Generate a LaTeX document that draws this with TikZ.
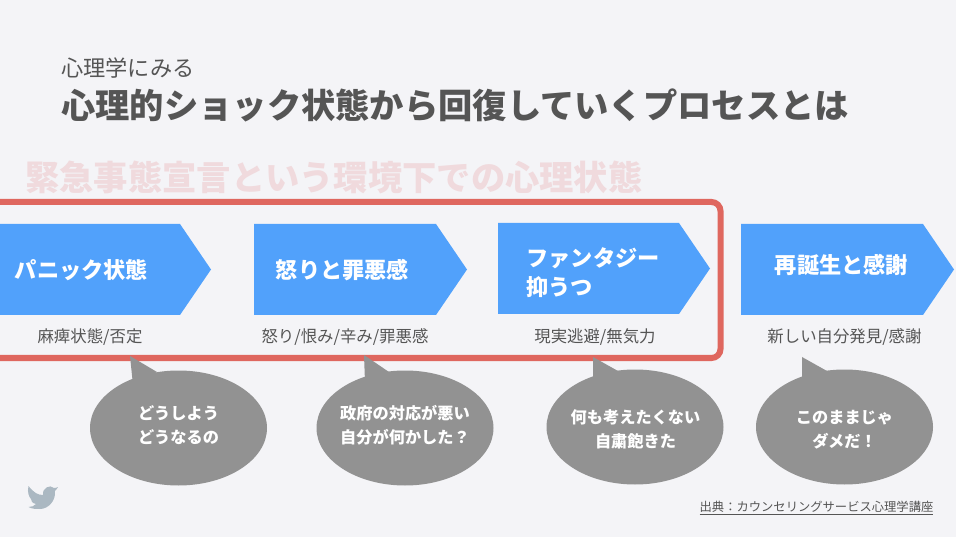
\documentclass[tikz,border=0pt]{standalone}
\usepackage{fontspec}
\setmainfont{Noto Sans CJK JP}
\definecolor{pagebg}{HTML}{F4F4F7}
\definecolor{titlegray}{HTML}{555555}
\definecolor{framered}{HTML}{DF675F}
\definecolor{fadedred}{HTML}{F0DADD}
\definecolor{arrowblue}{HTML}{51A1FB}
\definecolor{bubblegray}{HTML}{929292}
\definecolor{birdgray}{HTML}{ABB8C2}
\tikzset{
  subtitle/.style={text=titlegray,font=\fontsize{22.2}{26}\selectfont,anchor=west,inner sep=0pt},
  maintitle/.style={text=titlegray,font=\fontsize{34.3}{40}\selectfont\bfseries,anchor=west,inner sep=0pt},
  fadedtitle/.style={text=fadedred,font=\fontsize{34.3}{40}\selectfont\bfseries,anchor=west,inner sep=0pt},
  stagelabel/.style={text=white,font=\fontsize{22.2}{29}\selectfont\bfseries,align=left,inner sep=0pt},
  stagenote/.style={text=titlegray,font=\fontsize{16.4}{20}\selectfont,inner sep=0pt},
  bubbletext/.style={text=white,font=\fontsize{16.2}{24.5}\selectfont\bfseries,align=center,inner sep=0pt},
  stagearrow/.style={fill=arrowblue},
  bubble/.style={fill=bubblegray}
}
\begin{document}
\begin{tikzpicture}[x=1pt,y=-1pt]
  \fill[pagebg] (0,0) rectangle (956,537);
  \useasboundingbox (0,0) rectangle (956,537);

  \node[subtitle] (sub) at (61,68) {心理学にみる};
  \node[maintitle] (title) at (61,105) {心理的ショック状態から回復していくプロセスとは};
  \node[fadedtitle] (faded) at (25,177) {緊急事態宣言という環境下での心理状態};

  % blue arrows
  \foreach \xa/\xb/\xc/\ya/\yb in {-10/180/211/224/315,254/436/467/224/315,498/679/710/223/314,741/923/954/224/315}
    \fill[stagearrow] (\xa,\ya) -- (\xb,\ya) -- (\xc,{(\ya+\yb)/2}) -- (\xb,\yb) -- (\xa,\yb) -- cycle;

  % frame
  \draw[framered,line width=6pt,rounded corners=9pt] (-20,202) -- (720.5,202) -- (720.5,358) -- (-20,358);

  \node[stagelabel] (panic) at (81.5,270) {パニック状態};
  \node[stagelabel] (anger) at (342.5,270) {怒りと罪悪感};
  \node[stagelabel] (fantasy) at (593,273) {ファンタジー\\抑うつ};
  \node[stagelabel] (rebirth) at (841.5,265) {再誕生と感謝};

  \node[stagenote] (note1) at (90,337) {麻痺状態/否定};
  \node[stagenote] (note2) at (345,337) {怒り/恨み/辛み/罪悪感};
  \node[stagenote] (note3) at (595,337) {現実逃避/無気力};
  \node[stagenote] (note4) at (844.5,337) {新しい自分発見/感謝};

  % bubbles
  \foreach \cx/\cy/\tx/\ty/\ax/\ay/\bx/\by in {178.5/428/130/356/133/385/157/372,405/428/364/355/365/382/389/372,635/427/593/357/593/380/618/371,844.5/427/802/357/802/380/827/371}
   {
    \fill[bubble] (\cx,\cy) ellipse [x radius=88.5,y radius=57.5];
    \fill[bubble] (\tx,\ty) -- (\bx,\by) -- (\ax,\ay) -- cycle;
   }
  \node[bubbletext] (say1) at (178.5,425) {どうしよう\\どうなるの};
  \node[bubbletext] (say2) at (405,425) {政府の対応が悪い\\自分が何かした？};
  \node[bubbletext] (say3) at (635.5,429.5) {何も考えたくない\\自粛飽きた};
  \node[bubbletext] (say4) at (844.5,429.5) {このままじゃ\\ダメだ！};

  % twitter bird
  \fill[birdgray] (28.5,486) .. controls (34,493) and (38,495) .. (43,495) .. controls (42,488) and (50,484) .. (54,488) .. controls (56,488) and (57,487.5) .. (58,487) .. controls (57,489) and (56,490) .. (55,491) .. controls (56,501) and (48,509) .. (40,509) .. controls (36,509) and (32,509) .. (28.5,507) .. controls (32,507) and (34,506) .. (36,504) .. controls (32,503) and (31,501) .. (31,499) .. controls (29,497) and (27,492) .. (28.5,486) -- cycle;

  \node[text=titlegray,font=\fontsize{12.3}{14}\selectfont,inner sep=0pt] (source) at (816.5,508) {\underline{出典：カウンセリングサービス心理学講座}};
\end{tikzpicture}
\end{document}
